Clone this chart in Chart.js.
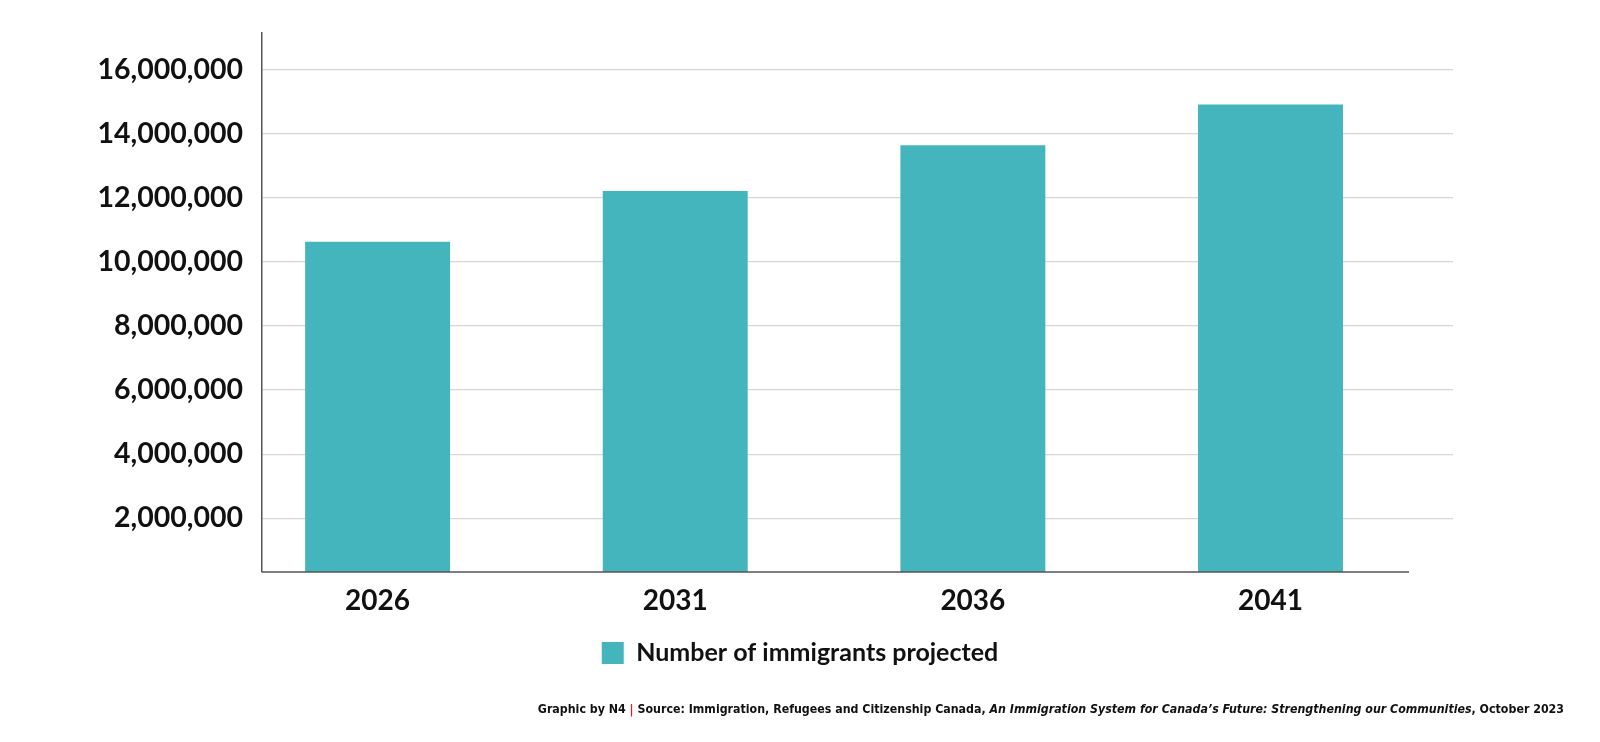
<!DOCTYPE html>
<html>
<head>
<meta charset="utf-8">
<script src="https://cdn.jsdelivr.net/npm/chart.js@4/dist/chart.umd.min.js"></script>
<style>
  html, body { margin: 0; padding: 0; background: #fff; }
  #wrap { position: relative; width: 1600px; height: 742px; }
  #footer {
    position: absolute;
    right: 36px;
    top: 702px;
    font-family: "DejaVu Sans Condensed", "DejaVu Sans", sans-serif;
    font-stretch: condensed;
    font-weight: bold;
    font-size: 12.3px;
    color: #111;
    white-space: nowrap;
  }
  #footer .bar { color: #e31b23; }
</style>
</head>
<body>
<div id="wrap">
  <canvas id="chart" width="1600" height="742"></canvas>
  <div id="footer">Graphic by N4 <span class="bar">|</span> Source: Immigration, Refugees and Citizenship Canada, <i>An Immigration System for Canada’s Future: Strengthening our Communities</i>, October 2023</div>
</div>
<script>
const years = [2026, 2031, 2036, 2041];
const immigrants = [10630000, 12210000, 13640000, 14910000];
const yTicks = [2000000, 4000000, 6000000, 8000000, 10000000, 12000000, 14000000, 16000000];
const seriesLabel = "Number of immigrants projected";

const barColor = "#45b5bd";
const axisColor = "#555555";
const font = "Lato";

// bottom axis line stops short of the gridlines, so draw it by hand
const xAxisLine = {
  id: "xAxisLine",
  afterDatasetsDraw(chart) {
    const { ctx, chartArea } = chart;
    ctx.save();
    ctx.strokeStyle = axisColor;
    ctx.lineWidth = 1.5;
    ctx.beginPath();
    ctx.moveTo(chartArea.left, chartArea.bottom);
    ctx.lineTo(chartArea.right - 44, chartArea.bottom);
    ctx.stroke();
    ctx.restore();
  },
};

// legend is centred on the whole page, not on the padded layout box
const centreLegend = {
  id: "centreLegend",
  afterLayout(chart) {
    const legend = chart.legend;
    legend.left = 0;
    legend.right = chart.width;
    legend.width = chart.width;
  },
};

new Chart(document.getElementById("chart").getContext("2d"), {
  type: "bar",
  data: {
    datasets: [
      {
        label: seriesLabel,
        data: years.map((y, i) => ({ x: y, y: immigrants[i] })),
        backgroundColor: barColor,
        borderWidth: 0,
        barPercentage: 0.487,
        categoryPercentage: 1,
      },
    ],
  },
  plugins: [xAxisLine, centreLegend],
  options: {
    responsive: false,
    animation: false,
    layout: {
      padding: { top: 33, right: 147, bottom: 66.5, left: 0 },
    },
    plugins: {
      tooltip: { enabled: false },
      legend: {
        position: "bottom",
        labels: {
          boxWidth: 22,
          boxHeight: 22,
          padding: 10,
          color: "#111",
          font: { family: font, size: 25, weight: "bold" },
        },
      },
    },
    scales: {
      x: {
        type: "linear",
        offset: false,
        min: 2024.058,
        max: 2044.066,
        afterBuildTicks: (scale) => {
          scale.ticks = years.map((v) => ({ value: v }));
        },
        afterFit: (scale) => {
          scale.height = 58.5;
        },
        grid: { display: false, drawTicks: false },
        border: { display: false },
        ticks: {
          padding: 12,
          color: "#111",
          font: { family: font, size: 28, weight: "bold" },
          callback: (value) => String(value),
        },
      },
      y: {
        min: 322000,
        max: 17140000,
        afterBuildTicks: (scale) => {
          scale.ticks = yTicks.map((v) => ({ value: v }));
        },
        afterFit: (scale) => {
          scale.width = 262;
          // end ticks sit well inside the axis, no label overflow to reserve
          scale.paddingTop = 0;
          scale.paddingBottom = 0;
        },
        grid: { color: "#d6d6d6", lineWidth: 1.2, drawTicks: false },
        border: { display: true, color: axisColor, width: 1.5 },
        ticks: {
          padding: 19,
          color: "#111",
          font: { family: font, size: 28.5, weight: "bold" },
          callback: (value) => value.toLocaleString("en-US"),
        },
      },
    },
  },
});
</script>
</body>
</html>
